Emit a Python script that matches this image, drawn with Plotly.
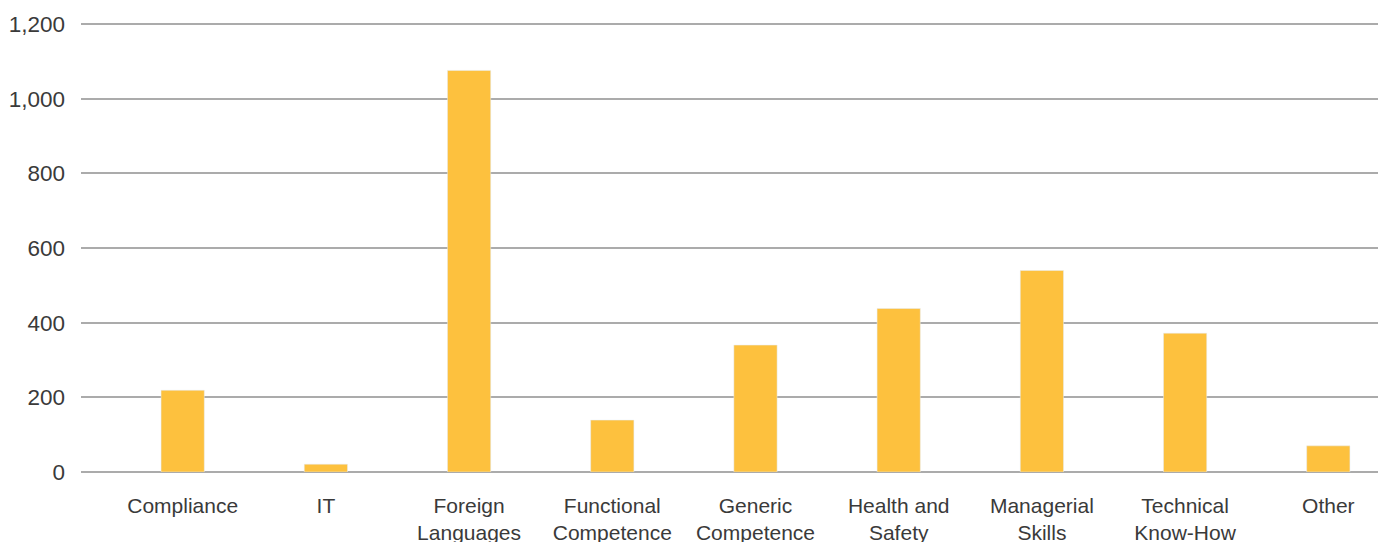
import plotly.graph_objects as go

categories = ["Compliance", "IT", "Foreign<br>Languages", "Functional<br>Competence",
              "Generic<br>Competence", "Health and<br>Safety", "Managerial<br>Skills",
              "Technical<br>Know-How", "Other"]
values = [219, 21, 1076, 139, 340, 438, 540, 372, 70]
y_ticks = [0, 200, 400, 600, 800, 1000, 1200]
y_tick_labels = ["0", "200", "400", "600", "800", "1,000", "1,200"]

fig = go.Figure(go.Bar(x=categories, y=values, marker_color="#FDC13E", width=0.302))

fig.update_layout(
    width=1386, height=542,
    margin=dict(l=73, r=16, t=15, b=78),
    paper_bgcolor="white", plot_bgcolor="white",
    font=dict(family="Liberation Sans, Arial, sans-serif", size=21, color="#3a3a3a"),
    showlegend=False,
)
fig.update_yaxes(range=[0, 1203], tickvals=y_ticks, ticktext=y_tick_labels,
                 showgrid=True, gridcolor="#ababab", gridwidth=2,
                 zeroline=True, zerolinecolor="#ababab", zerolinewidth=2,
                 showline=False, ticks="", ticklabelstandoff=15, automargin=False,
                 tickfont=dict(size=22.5))
fig.update_xaxes(range=[-0.71, 8.347], showgrid=False, showline=False, ticks="",
                 ticklabelstandoff=19, tickangle=0, automargin=False)

fig.write_html("out.html")
